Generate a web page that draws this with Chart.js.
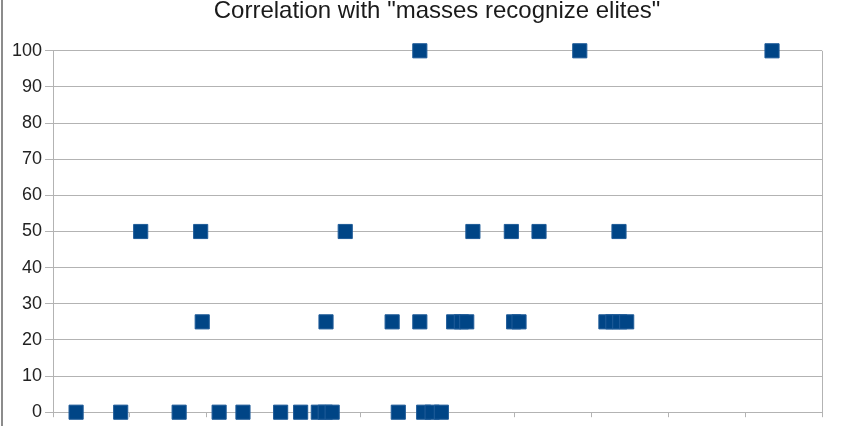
<!DOCTYPE html>
<html>
<head>
<meta charset="utf-8">
<script src="https://cdn.jsdelivr.net/npm/chart.js@4"></script>
<style>
    html, body { margin: 0; padding: 0; background: #fff; }
    #wrap { position: relative; width: 865px; height: 426px; }
    #edge { position: absolute; left: 1px; top: 0; width: 2px; height: 426px; background: #8c8c8c; }
</style>
</head>
<body>
<div id="wrap">
    <canvas id="corrChart" width="865" height="426"></canvas>
    <div id="edge"></div>
</div>
<script>
const chartTitle = 'Correlation with "masses recognize elites"';
const yTicks = [0, 10, 20, 30, 40, 50, 60, 70, 80, 90, 100];

// x positions (unlabelled axis, 0..10) and matching y values
const xValues = [
    4.77, 6.85, 9.35,
    1.14, 1.92, 3.80, 5.46, 5.96, 6.32, 7.36,
    1.94, 3.55, 4.41, 4.77, 5.21, 5.31, 5.38, 5.99, 6.06, 7.19, 7.28, 7.37, 7.46,
    0.30, 0.88, 1.64, 2.16, 2.47, 2.96, 3.22, 3.45, 3.54, 3.63, 4.49, 4.82, 4.93, 5.05
];
const yValues = [
    100, 100, 100,
    50, 50, 50, 50, 50, 50, 50,
    25, 25, 25, 25, 25, 25, 25, 25, 25, 25, 25, 25, 25,
    0, 0, 0, 0, 0, 0, 0, 0, 0, 0, 0, 0, 0, 0
];

const points = xValues.map((x, i) => ({ x: x, y: yValues[i] }));

const ctx = document.getElementById('corrChart').getContext('2d');
const myChart = new Chart(ctx, {
    type: 'scatter',
    data: {
        datasets: [{
            label: 'masses recognize elites',
            data: points,
            pointStyle: 'rect',
            pointRadius: 10,
            pointHoverRadius: 10,
            backgroundColor: '#004586',
            borderColor: '#1f5c99',
            borderWidth: 1,
            clip: false
        }]
    },
    options: {
        responsive: false,
        animation: false,
        layout: {
            padding: { left: 9, right: 0, top: 0, bottom: 5 }
        },
        plugins: {
            legend: { display: false },
            tooltip: { enabled: false },
            title: {
                display: true,
                text: chartTitle,
                color: '#1a1a1a',
                font: { family: 'Liberation Sans', size: 24, weight: 'normal' },
                padding: { top: -3, bottom: 25 }
            }
        },
        scales: {
            x: {
                type: 'linear',
                min: 0,
                max: 10,
                ticks: { display: false, stepSize: 1 },
                grid: {
                    color: c => c.index === 10 ? '#b3b3b3' : 'rgba(0,0,0,0)',
                    tickColor: '#b3b3b3',
                    tickLength: 5,
                    lineWidth: 1
                },
                border: { display: true, color: '#b3b3b3' }
            },
            y: {
                min: 0,
                max: 100,
                afterBuildTicks: axis => { axis.ticks = yTicks.map(v => ({ value: v })); },
                ticks: {
                    color: '#222',
                    font: { family: 'Liberation Sans', size: 18 },
                    padding: 3
                },
                grid: {
                    color: '#b3b3b3',
                    tickColor: '#b3b3b3',
                    tickLength: 8
                },
                border: { display: true, color: '#b3b3b3' }
            },
            // empty right-hand margin so the title stays centred on the page
            yRight: {
                position: 'right',
                min: 0,
                max: 100,
                ticks: { display: false },
                grid: { display: false },
                border: { display: false },
                afterFit: axis => { axis.width = 43; }
            }
        }
    }
});
</script>
</body>
</html>
